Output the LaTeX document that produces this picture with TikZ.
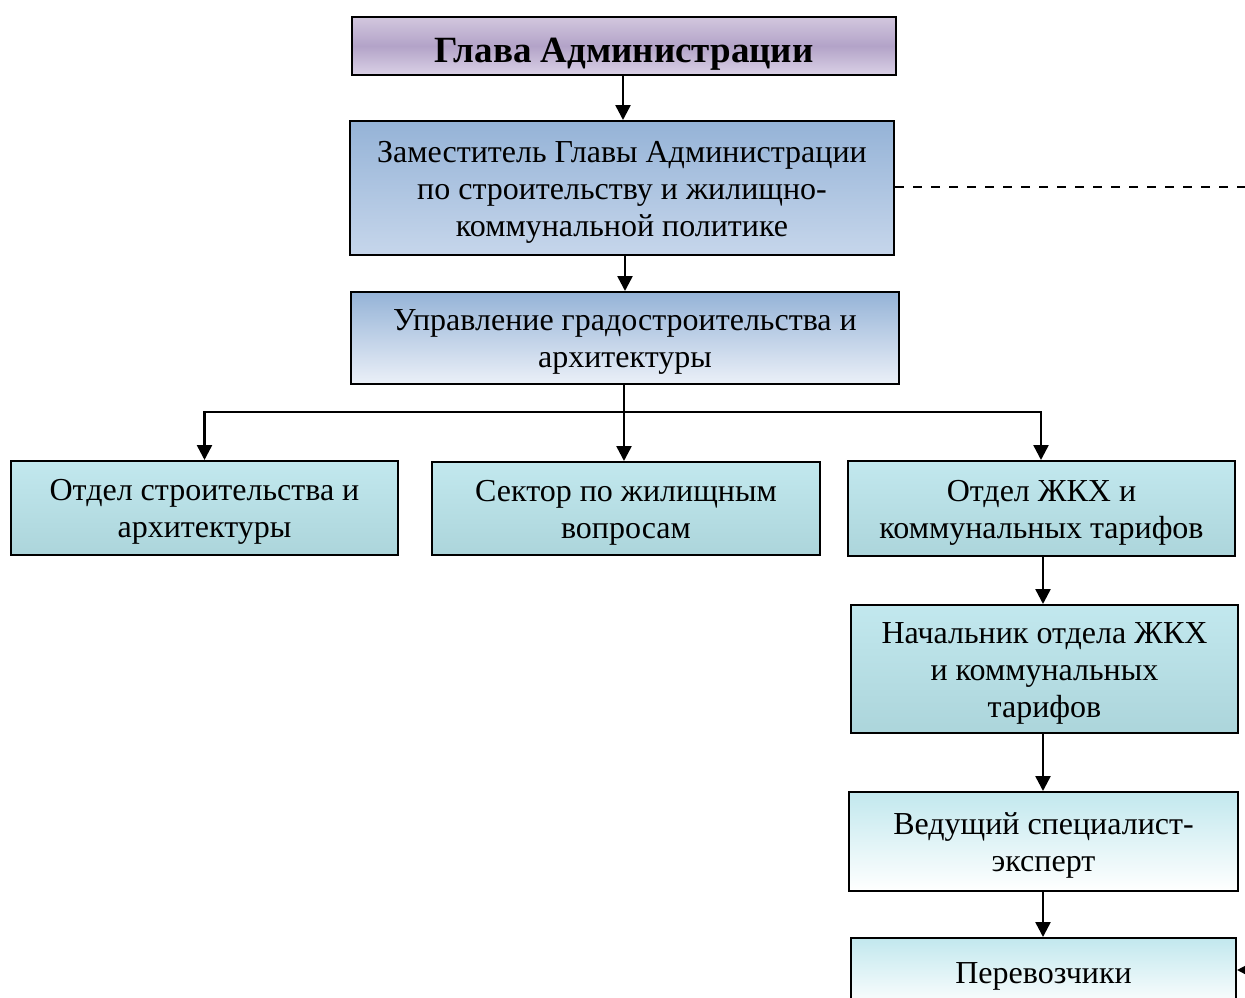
\documentclass[tikz,border=0pt]{standalone}
\usepackage{fontspec}
\setmainfont{Liberation Serif}
\usetikzlibrary{arrows.meta,calc}
\newcommand{\topgap}{\rule{0pt}{29pt}}
\begin{document}
\begin{tikzpicture}[x=1pt,y=-1pt,
  box/.style={draw=black, line width=2pt, align=center, inner sep=0pt,
    font=\fontsize{32}{37}\selectfont},
  purplebox/.style={box, top color=purpleT, bottom color=purpleB, middle color=purpleM},
  bluebox/.style={box, top color=blueT, bottom color=blueB},
  lightbluebox/.style={box, top color=blueT, bottom color=blueL},
  cyanbox/.style={box, top color=cyanT, bottom color=cyanB},
  whitebox/.style={box, top color=cyanT, bottom color=white},
  arr/.style={line width=2.5pt, -{Triangle[width=15pt,length=15pt]}},
  conn/.style={line width=2.5pt},
]
\definecolor{purpleT}{HTML}{D2C7DE}
\definecolor{purpleM}{HTML}{B3A3C8}
\definecolor{purpleB}{HTML}{DAD1E6}
\definecolor{blueT}{HTML}{95B3D7}
\definecolor{blueB}{HTML}{C6D6EB}
\definecolor{blueL}{HTML}{EBF0F8}
\definecolor{cyanT}{HTML}{C2E8EE}
\definecolor{cyanB}{HTML}{ACD5DB}
\useasboundingbox (0,0) rectangle (1245,997);

\node[purplebox, minimum width=544pt, minimum height=58pt,
  font=\fontsize{37}{42}\selectfont\bfseries] (glava) at (624,46)
  {\rule{0pt}{40pt}Глава Администрации};
\node[bluebox, minimum width=544pt, minimum height=134pt] (zam) at (622,188)
  {\topgap Заместитель Главы Администрации\\по строительству и жилищно-\\коммунальной политике};
\node[lightbluebox, minimum width=548pt, minimum height=92pt] (upr) at (625,338)
  {\topgap Управление градостроительства и\\архитектуры};
\node[cyanbox, minimum width=387pt, minimum height=94pt] (otd1) at (204.5,508)
  {\topgap Отдел строительства и\\архитектуры};
\node[cyanbox, minimum width=388pt, minimum height=93pt] (sek) at (626,508.5)
  {\topgap Сектор по жилищным\\вопросам};
\node[cyanbox, minimum width=387pt, minimum height=95pt] (otd2) at (1041.5,508.5)
  {\topgap Отдел ЖКХ и\\коммунальных тарифов};
\node[cyanbox, minimum width=387pt, minimum height=128pt] (nach) at (1044.5,669)
  {\topgap Начальник отдела ЖКХ\\и коммунальных\\тарифов};
\node[whitebox, minimum width=389pt, minimum height=99pt] (ved) at (1043.5,841.5)
  {\topgap Ведущий специалист-\\эксперт};
\node[whitebox, minimum width=385pt, minimum height=70pt] (per) at (1043.5,973)
  {\rule{0pt}{27pt}Перевозчики};

\coordinate (bus) at (624,412);
\coordinate (dashend) at (1245,187);
\coordinate (rt) at (1270,970);

\draw[arr] (glava.south -| 623,0) -- (zam.north -| 623,0);
\draw[conn, dash pattern=on 9pt off 9pt] (zam.east |- dashend) -- (dashend);
\draw[arr] (zam.south -| 625,0) -- (upr.north -| 625,0);
\draw[conn] (upr.south -| bus) -- (bus);
\draw[arr] (bus) -| (otd1.north);
\draw[arr] (bus) -- (bus |- sek.north);
\draw[arr] (bus) -| (otd2.north -| 1041,0);
\draw[arr] (otd2.south -| 1043,0) -- (nach.north -| 1043,0);
\draw[arr] (nach.south -| 1043,0) -- (ved.north -| 1043,0);
\draw[arr] (ved.south -| 1043,0) -- (per.north -| 1043,0);
\draw[arr] (rt) -- (per.east |- rt);
\end{tikzpicture}
\end{document}
